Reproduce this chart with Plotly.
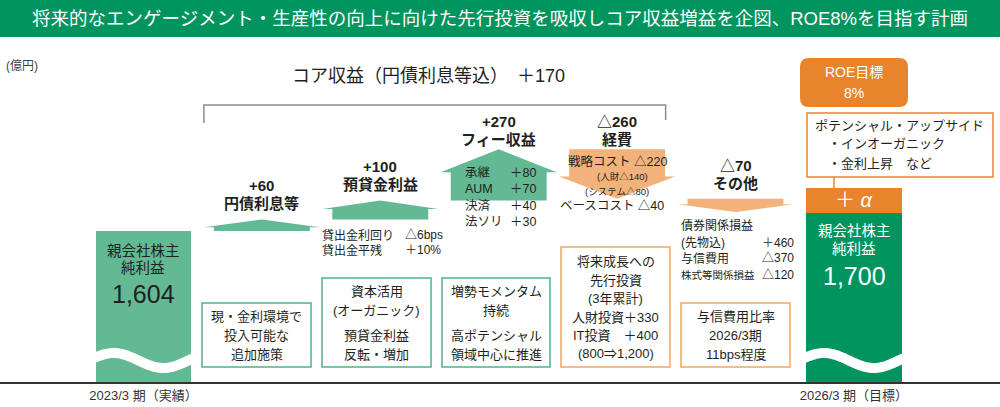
import numpy as np
import plotly.graph_objects as go

# ---------------- data ----------------
categories = ["2023/3期(実績)", "円債利息等", "預貸金利益", "フィー収益", "経費", "その他", "2026/3期(目標)"]
start_value = 1604
end_value = 1700
step_values = [60, 100, 270, -260, -70]
step_names = ["円債利息等", "預貸金利益", "フィー収益", "経費", "その他"]
core_total = 170

loan_items = ["貸出金利回り", "貸出金平残"]
loan_values = ["△6bps", "＋10%"]
fee_items = ["承継", "AUM", "決済", "法ソリ"]
fee_values = [80, 70, 40, 30]
expense_lines = ["戦略コスト △220", "(人財△140)", "(システム△80)", "ベースコスト △40"]
other_items = ["債券関係損益", "(先物込)", "与信費用", "株式等関係損益"]
other_values = [None, 460, -370, -120]
tick_labels = ["2023/3 期（実績）", "2026/3 期（目標）"]

# ---------------- layout constants ----------------
W, H = 1000, 407
AXIS_PX = 382
PX_PER_UNIT = 0.19
Y_RANGE = [809, 809 + AXIS_PX / PX_PER_UNIT]
X_RANGE = [-143.5 / 118.4, (W - 143.5) / 118.4]
FONT = "Liberation Sans, Noto Sans CJK JP, sans-serif"
GREEN_DARK = "#00945f"
GREEN_LIGHT = "#62b993"
ORANGE = "#e8842c"
ORANGE_LIGHT = "#f3b27b"
BOX_GREEN = "#4fb487"
BOX_ORANGE = "#f0a866"
TXT = "#231f20"


def fmt(v):
    return ("+" if v > 0 else "△") + f"{abs(v):,}"


def fmtw(v):
    return ("＋" if v > 0 else "△") + f"{abs(v):,}"


def pxx(p):
    return p / W


def pxy(p):
    return (AXIS_PX - p) / AXIS_PX


def data_y(p):
    return Y_RANGE[0] + (AXIS_PX - p) / PX_PER_UNIT


fig = go.Figure()
annotations = []
shapes = []


def ann(x, y, text, size=12, color=TXT, xanchor="center", xref="paper", yref="paper", yshift=0, **kw):
    annotations.append(dict(x=x, y=y, xref=xref, yref=yref, text=text, showarrow=False,
                            xanchor=xanchor, yanchor="middle", yshift=yshift,
                            font=dict(family=FONT, size=size, color=color), **kw))


def pann(px, py, text, size=12, color=TXT, xanchor="center"):
    ann(pxx(px), pxy(py), text, size, color, xanchor)


def prect(x0, y0, x1, y1, fill="white", line=None, lw=1.5):
    shapes.append(dict(type="rect", xref="paper", yref="paper", x0=pxx(x0), x1=pxx(x1),
                       y0=pxy(y0), y1=pxy(y1), fillcolor=fill,
                       line=dict(color=line or fill, width=lw if line else 0), layer="above"))


# header band
prect(0, 0, W, 37, fill=GREEN_DARK)
pann(500, 19, "将来的なエンゲージメント・生産性の向上に向けた先行投資を吸収しコア収益増益を企図、ROE8%を目指す計画",
     size=18.5, color="white")

pann(4, 66, "(億円)", size=12, color="#444", xanchor="left")
pann(428, 76, f"コア収益（円債利息等込）　＋{core_total}", size=18)

# ---------------- bars (start / end) ----------------
fig.add_trace(go.Bar(x=[0, 6], y=[start_value, end_value], base=0, width=[0.80, 0.81],
                     marker=dict(color=[GREEN_LIGHT, GREEN_DARK], line=dict(width=0)),
                     hoverinfo="skip", showlegend=False))

# wave breaks on the bars
u = np.linspace(0, 1, 60)
wave_px = 360.5 - 7.5 * np.cos(2 * np.pi * (u - 0.2))
for i in (0, 6):
    fig.add_trace(go.Scatter(x=i + (u - 0.5) * 0.84, y=[data_y(p) for p in wave_px], mode="lines",
                             line=dict(color="white", width=10, shape="spline"),
                             hoverinfo="skip", showlegend=False))

# ---------------- waterfall arrows ----------------
level = start_value
label_gap = [16, 16, 10, 10, 15]
for k, d in enumerate(step_values):
    i = k + 1
    s, e = level, level + d
    head = min(max(0.45 * abs(d), 40), 0.7 * abs(d))
    sgn = 1 if d > 0 else -1
    neck = e - sgn * head
    rw, hw = 0.405, 0.49
    xs = [i - rw, i - rw, i - hw, i, i + hw, i + rw, i + rw, i - rw]
    ys = [s, neck, neck, e, neck, neck, s, s]
    col = GREEN_LIGHT if d > 0 else ORANGE_LIGHT
    fig.add_trace(go.Scatter(x=xs, y=ys, mode="lines", fill="toself", fillcolor=col,
                             line=dict(width=0, color=col), hoverinfo="skip", showlegend=False))
    top = max(s, e)
    ann(i, top, f"<b>{step_names[k]}</b>", size=15, xref="x", yref="y", yshift=label_gap[k])
    ann(i, top, f"<b>{fmt(d)}</b>", size=15, xref="x", yref="y", yshift=label_gap[k] + 18)
    level = e

# bracket over core items (categories 1..4)
shapes.append(dict(type="path", xref="x", yref="paper",
                   path=f"M {1 - 0.49},{pxy(123)} L {1 - 0.49},{pxy(105)} L {4 + 0.41},{pxy(105)} L {4 + 0.41},{pxy(120)}",
                   line=dict(color="#8c8c8c", width=1.5)))

# ---------------- in-bar texts ----------------
pann(143, 251, "親会社株主", size=14.5)
pann(143, 268, "純利益", size=14.5)
pann(143, 294, f"{start_value:,}", size=25)
pann(854, 231, "親会社株主", size=14.5, color="white")
pann(854, 249, "純利益", size=14.5, color="white")
pann(854, 276, f"{end_value:,}", size=25, color="white")

# loan details
for j, (a, b) in enumerate(zip(loan_items, loan_values)):
    pann(320, 235 + 15 * j, a, size=12, xanchor="left")
    pann(403, 235 + 15 * j, b, size=12, xanchor="left")

# fee details
for j, (a, b) in enumerate(zip(fee_items, fee_values)):
    y = 173 + 16.3 * j
    pann(463, y, a, size=12.5, xanchor="left")
    pann(538, y, fmtw(b), size=12.5, xanchor="right")

# expense details
exp_pos = [(617, 162, 12.5), (622, 176, 9.5), (617, 191, 9.5), (612, 206, 12.5)]
for t, (x, y, s) in zip(expense_lines, exp_pos):
    pann(x, y, t, size=s)

# other details
oth_y = [225, 243, 258, 275]
for t, v, y in zip(other_items, other_values, oth_y):
    pann(679, y, t, size=10.5 if len(t) > 6 else 12, xanchor="left")
    if v is not None:
        pann(796, y, fmtw(v), size=12, xanchor="right")

# ---------------- bottom boxes ----------------
boxes = [
    (202, 303, 311, 367, BOX_GREEN, [("現・金利環境で", 316), ("投入可能な", 335), ("追加施策", 354)]),
    (322, 278, 431, 367, BOX_GREEN, [("資本活用", 291), ("(オーガニック)", 310), ("預貸金利益", 335), ("反転・増加", 354)]),
    (442, 278, 550, 367, BOX_GREEN, [("増勢モメンタム", 291), ("持続", 310), ("高ポテンシャル", 335), ("領域中心に推進", 354)]),
    (561, 247, 670, 367, BOX_ORANGE, [("将来成長への", 261), ("先行投資", 280), ("(3年累計)", 298.5),
                                      ("人財投資＋330", 317), ("IT投資　＋400", 335), ("(800⇒1,200)", 353.5)]),
    (681, 303, 790, 367, BOX_ORANGE, [("与信費用比率", 316), ("2026/3期", 335), ("11bps程度", 354)]),
]
for x0, y0, x1, y1, col, lines in boxes:
    prect(x0, y0, x1, y1, fill="white", line=col, lw=1.5)
    for t, y in lines:
        pann((x0 + x1) / 2, y, t, size=13)

# ---------------- right side (ROE target) ----------------
r = 9
x0, y0, x1, y1 = 800, 58, 908, 107
shapes.append(dict(type="path", xref="paper", yref="paper", fillcolor=ORANGE, line=dict(width=0),
                   path=(f"M {pxx(x0 + r)},{pxy(y0)} L {pxx(x1 - r)},{pxy(y0)} "
                         f"Q {pxx(x1)},{pxy(y0)} {pxx(x1)},{pxy(y0 + r)} L {pxx(x1)},{pxy(y1 - r)} "
                         f"Q {pxx(x1)},{pxy(y1)} {pxx(x1 - r)},{pxy(y1)} L {pxx(x0 + r)},{pxy(y1)} "
                         f"Q {pxx(x0)},{pxy(y1)} {pxx(x0)},{pxy(y1 - r)} L {pxx(x0)},{pxy(y0 + r)} "
                         f"Q {pxx(x0)},{pxy(y0)} {pxx(x0 + r)},{pxy(y0)} Z")))
pann(854, 72, "ROE目標", size=14, color="white")
pann(854, 93, "8%", size=14, color="white")

prect(807, 113, 993, 177, fill="white", line=ORANGE, lw=1.5)
pann(813, 125, "ポテンシャル・アップサイド", size=13, xanchor="left")
pann(826, 144, "・インオーガニック", size=13, xanchor="left")
pann(826, 163, "・金利上昇　など", size=13, xanchor="left")
shapes.append(dict(type="line", xref="paper", yref="paper", x0=pxx(834), x1=pxx(834),
                   y0=pxy(177), y1=pxy(188), line=dict(color=ORANGE, width=1.5)))
prect(806, 188, 902, 213, fill=ORANGE)
pann(854, 200, "＋ <i>α</i>", size=20, color="white")

fig.update_layout(
    width=W, height=H, margin=dict(l=0, r=0, t=0, b=H - AXIS_PX),
    template="none", plot_bgcolor="white", paper_bgcolor="white",
    annotations=annotations, shapes=shapes, showlegend=False, bargap=0,
    xaxis=dict(range=X_RANGE, tickvals=[0, 6], ticktext=tick_labels, showgrid=False, zeroline=False,
               showline=True, linecolor="#333", linewidth=2, ticks="", automargin=False,
               tickfont=dict(family=FONT, size=13, color="#333"), fixedrange=True),
    yaxis=dict(range=Y_RANGE, visible=False, showgrid=False, zeroline=False, fixedrange=True,
               automargin=False),
)

fig.write_html("out.html")
